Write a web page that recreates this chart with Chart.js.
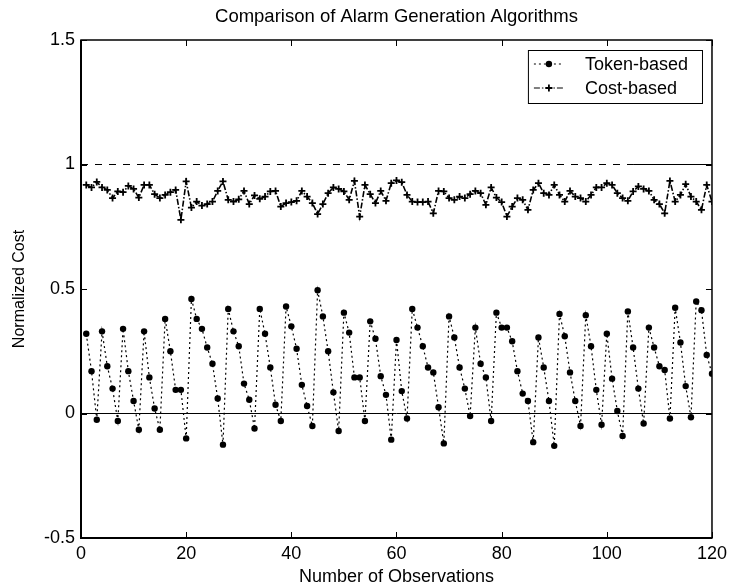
<!DOCTYPE html>
<html>
<head>
<meta charset="utf-8">
<title>Comparison of Alarm Generation Algorithms</title>
<script src="https://cdn.jsdelivr.net/npm/chart.js@4.4.1/dist/chart.umd.min.js"></script>
<style>
  html, body { margin: 0; padding: 0; background: #fff; }
  #wrap { width: 732px; height: 588px; }
</style>
</head>
<body>
<div id="wrap"><canvas id="chart"></canvas></div>
<script>
// --- DONNÉES ---
const chartTitle = 'Comparison of Alarm Generation Algorithms';
const xTitle = 'Number of Observations';
const yTitle = 'Normalized Cost';
const seriesLabels = ['Token-based', 'Cost-based'];

const observations = [
  1, 2, 3, 4, 5, 6, 7, 8, 9, 10, 11, 12, 13, 14, 15, 16, 17, 18, 19, 20,
  21, 22, 23, 24, 25, 26, 27, 28, 29, 30, 31, 32, 33, 34, 35, 36, 37, 38, 39, 40,
  41, 42, 43, 44, 45, 46, 47, 48, 49, 50, 51, 52, 53, 54, 55, 56, 57, 58, 59, 60,
  61, 62, 63, 64, 65, 66, 67, 68, 69, 70, 71, 72, 73, 74, 75, 76, 77, 78, 79, 80,
  81, 82, 83, 84, 85, 86, 87, 88, 89, 90, 91, 92, 93, 94, 95, 96, 97, 98, 99, 100,
  101, 102, 103, 104, 105, 106, 107, 108, 109, 110, 111, 112, 113, 114, 115, 116, 117, 118, 119, 120
];

const tokenBased = [
  0.32, 0.17, -0.025, 0.33, 0.19, 0.10, -0.03, 0.34, 0.17, 0.05,
  -0.065, 0.33, 0.145, 0.02, -0.065, 0.38, 0.25, 0.095, 0.095, -0.10,
  0.46, 0.38, 0.34, 0.265, 0.20, 0.06, -0.125, 0.42, 0.33, 0.27,
  0.12, 0.055, -0.06, 0.42, 0.32, 0.185, 0.035, -0.03, 0.43, 0.35,
  0.26, 0.115, 0.03, -0.05, 0.495, 0.39, 0.25, 0.085, -0.07, 0.405,
  0.325, 0.145, 0.145, -0.03, 0.37, 0.30, 0.15, 0.075, -0.105, 0.295,
  0.09, -0.02, 0.42, 0.345, 0.27, 0.185, 0.165, 0.025, -0.12, 0.39,
  0.305, 0.185, 0.10, -0.01, 0.345, 0.20, 0.145, -0.03, 0.405, 0.345,
  0.345, 0.29, 0.17, 0.08, 0.05, -0.115, 0.305, 0.185, 0.05, -0.13,
  0.40, 0.31, 0.165, 0.05, -0.05, 0.395, 0.27, 0.095, -0.045, 0.32,
  0.14, 0.01, -0.09, 0.41, 0.265, 0.10, -0.04, 0.345, 0.265, 0.19,
  0.175, -0.02, 0.425, 0.285, 0.11, -0.015, 0.45, 0.415, 0.235, 0.16
];

const costBased = [
  0.918, 0.908, 0.930, 0.908, 0.898, 0.865, 0.892, 0.889, 0.914, 0.902,
  0.867, 0.918, 0.918, 0.881, 0.865, 0.878, 0.889, 0.898, 0.778, 0.932,
  0.827, 0.851, 0.835, 0.841, 0.851, 0.894, 0.932, 0.858, 0.851, 0.860,
  0.894, 0.841, 0.876, 0.862, 0.871, 0.892, 0.894, 0.831, 0.845, 0.849,
  0.854, 0.894, 0.871, 0.845, 0.801, 0.841, 0.885, 0.908, 0.902, 0.892,
  0.858, 0.934, 0.791, 0.918, 0.881, 0.845, 0.894, 0.854, 0.925, 0.936,
  0.929, 0.878, 0.851, 0.849, 0.849, 0.851, 0.804, 0.894, 0.892, 0.865,
  0.858, 0.871, 0.865, 0.881, 0.894, 0.885, 0.838, 0.908, 0.867, 0.849,
  0.791, 0.831, 0.865, 0.858, 0.818, 0.898, 0.925, 0.885, 0.878, 0.918,
  0.878, 0.851, 0.894, 0.871, 0.865, 0.851, 0.878, 0.908, 0.908, 0.925,
  0.918, 0.885, 0.865, 0.854, 0.892, 0.912, 0.902, 0.894, 0.858, 0.841,
  0.804, 0.934, 0.851, 0.878, 0.921, 0.871, 0.851, 0.818, 0.918, 0.851
];

// lignes de référence (niveau 0 plein, niveau 1 pointillé puis plein)
const zeroLineX = [0, 120];
const oneLineX = [0, 105, 120];

const xTickValues = [0, 20, 40, 60, 80, 100, 120];
const xTickLabels = ['0', '20', '40', '60', '80', '100', '120'];
const yTickValues = [-0.5, 0, 0.5, 1, 1.5];
const yTickLabels = ['-0.5', '0', '0.5', '1', '1.5'];

// --- STYLES ---
const FONT = '"Liberation Sans", Arial, Helvetica, sans-serif';
const tokenStyle = { dash: [2, 3], point: 'circle', radius: 3.2 };
const costStyle = { dash: [6, 2, 1.5, 2], point: 'cross', radius: 3.5 };

function toPoints(xs, ys) {
    return xs.map((x, i) => ({ x: x, y: ys[i] }));
}

// --- PLUGIN : titre, cadre, graduations intérieures, légende ---
const matlabFrame = {
    id: 'matlabFrame',
    afterDraw(chart) {
        const { ctx, chartArea: a, scales: { x, y } } = chart;
        ctx.save();
        ctx.strokeStyle = '#000';
        ctx.fillStyle = '#000';

        // titre centré sur la zone de tracé
        ctx.font = '18.5px ' + FONT;
        ctx.textAlign = 'center';
        ctx.textBaseline = 'middle';
        ctx.fillText(chartTitle, (a.left + a.right) / 2, 17);

        // cadre (gauche et bas un peu plus épais)
        ctx.lineWidth = 1.5;
        ctx.strokeRect(a.left, a.top, a.right - a.left, a.bottom - a.top);
        ctx.lineWidth = 2;
        ctx.beginPath();
        ctx.moveTo(a.left, a.top); ctx.lineTo(a.left, a.bottom); ctx.lineTo(a.right, a.bottom);
        ctx.stroke();

        // graduations vers l'intérieur
        ctx.lineWidth = 1;
        const len = 6;
        ctx.beginPath();
        xTickValues.forEach(v => {
            const px = Math.round(x.getPixelForValue(v)) + 0.5;
            ctx.moveTo(px, a.bottom); ctx.lineTo(px, a.bottom - len);
            ctx.moveTo(px, a.top); ctx.lineTo(px, a.top + len);
        });
        yTickValues.forEach(v => {
            const py = Math.round(y.getPixelForValue(v)) + 0.5;
            ctx.moveTo(a.left, py); ctx.lineTo(a.left + len, py);
            ctx.moveTo(a.right, py); ctx.lineTo(a.right - len, py);
        });
        ctx.stroke();

        // légende encadrée en haut à droite
        ctx.font = '18px ' + FONT;
        ctx.textAlign = 'left';
        const textW = Math.max(...seriesLabels.map(t => ctx.measureText(t).width));
        const boxW = 6 + 30 + 21 + textW + 14;
        const boxH = 53;
        const bx = a.right - 10 - boxW;
        const by = a.top + 10;
        ctx.fillStyle = '#fff';
        ctx.fillRect(bx, by, boxW, boxH);
        ctx.lineWidth = 1;
        ctx.strokeRect(bx + 0.5, by + 0.5, boxW, boxH);
        ctx.fillStyle = '#000';

        [tokenStyle, costStyle].forEach((st, i) => {
            const ly = by + 14 + i * 24;
            const x1 = bx + 6, x2 = bx + 36;
            ctx.setLineDash(st.dash);
            ctx.beginPath();
            ctx.moveTo(x1, ly); ctx.lineTo(x2, ly);
            ctx.stroke();
            ctx.setLineDash([]);
            const mx = (x1 + x2) / 2;
            if (st.point === 'circle') {
                ctx.beginPath();
                ctx.arc(mx, ly, st.radius, 0, Math.PI * 2);
                ctx.fill();
            } else {
                ctx.lineWidth = 1.8;
                ctx.beginPath();
                ctx.moveTo(mx - st.radius, ly); ctx.lineTo(mx + st.radius, ly);
                ctx.moveTo(mx, ly - st.radius); ctx.lineTo(mx, ly + st.radius);
                ctx.stroke();
                ctx.lineWidth = 1;
            }
            ctx.textBaseline = 'middle';
            ctx.fillText(seriesLabels[i], bx + 57, ly + 1);
        });
        ctx.restore();
    }
};

// --- GRAPHIQUE ---
const ctx = document.getElementById('chart').getContext('2d');

new Chart(ctx, {
    type: 'line',
    data: {
        datasets: [
            {
                label: 'zero',
                data: toPoints(zeroLineX, zeroLineX.map(() => 0)),
                borderColor: '#000',
                borderWidth: 1,
                pointRadius: 0,
                fill: false,
                order: 3
            },
            {
                label: 'one',
                data: toPoints(oneLineX, oneLineX.map(() => 1)),
                borderColor: '#000',
                borderWidth: 1,
                pointRadius: 0,
                fill: false,
                segment: {
                    borderDash: c => c.p0DataIndex === 0 ? [7, 7] : undefined
                },
                order: 3
            },
            {
                label: seriesLabels[0],
                data: toPoints(observations, tokenBased),
                borderColor: '#000',
                backgroundColor: '#000',
                borderWidth: 1.2,
                borderDash: tokenStyle.dash,
                pointStyle: tokenStyle.point,
                pointRadius: tokenStyle.radius,
                pointBorderWidth: 0,
                tension: 0,
                fill: false,
                order: 1
            },
            {
                label: seriesLabels[1],
                data: toPoints(observations, costBased),
                borderColor: '#000',
                backgroundColor: '#000',
                borderWidth: 1.6,
                borderDash: costStyle.dash,
                pointStyle: costStyle.point,
                pointRadius: costStyle.radius,
                pointBorderWidth: 1.8,
                tension: 0,
                fill: false,
                order: 2
            }
        ]
    },
    options: {
        responsive: true,
        maintainAspectRatio: false,
        animation: false,
        layout: { padding: { top: 40, right: 17, bottom: 0, left: 0 } },
        plugins: {
            legend: { display: false },
            title: { display: false },
            tooltip: { enabled: false }
        },
        scales: {
            x: {
                type: 'linear',
                min: 0,
                max: 120,
                afterBuildTicks: s => { s.ticks = xTickValues.map(v => ({ value: v })); },
                afterFit: s => { s.height = 50; },
                grid: { display: false, drawTicks: false },
                border: { display: false },
                ticks: {
                    color: '#000',
                    font: { family: FONT, size: 18 },
                    padding: 5,
                    maxRotation: 0,
                    callback: v => xTickLabels[xTickValues.indexOf(v)]
                },
                title: {
                    display: true,
                    text: xTitle,
                    color: '#000',
                    font: { family: FONT, size: 18 },
                    padding: { top: 0, bottom: 0 }
                }
            },
            y: {
                type: 'linear',
                min: -0.5,
                max: 1.5,
                afterBuildTicks: s => { s.ticks = yTickValues.map(v => ({ value: v })); },
                afterFit: s => { s.width = 81; },
                grid: { display: false, drawTicks: false },
                border: { display: false },
                ticks: {
                    color: '#000',
                    font: { family: FONT, size: 18 },
                    padding: 6,
                    callback: v => yTickLabels[yTickValues.indexOf(v)]
                },
                title: {
                    display: true,
                    text: yTitle,
                    color: '#000',
                    font: { family: FONT, size: 16 },
                    padding: { top: 10, bottom: 0 }
                }
            }
        }
    },
    plugins: [matlabFrame]
});
</script>
</body>
</html>
